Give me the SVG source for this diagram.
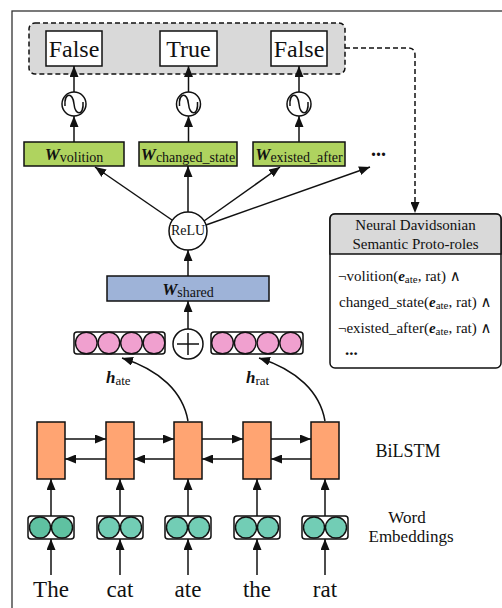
<svg xmlns="http://www.w3.org/2000/svg" width="502" height="608" viewBox="0 0 502 608">
<style>
text{font-family:"Liberation Serif","DejaVu Serif",serif;fill:#111}
.bx{stroke:#111;stroke-width:1.5}
.ln{stroke:#111;stroke-width:1.5;fill:none}
.bi{font-weight:bold;font-style:italic}
.big{font-size:24px}
.word{font-size:23px}
.lbl{font-size:18px}
.lbl2{font-size:17px}
.hd{font-size:15px}
.body{font-size:15px}
.sub{font-size:11px}
.wsub{font-size:14px}
.pk{fill:#f0a0cf;stroke:#111;stroke-width:1.4}
.tl{fill:#72cdb5;stroke:#111;stroke-width:1.4}
.ls{fill:#ffa472;stroke:#111;stroke-width:1.5}
.gr{fill:#afd35f;stroke:#111;stroke-width:1.5}
</style>
<defs>
<marker id="ah" viewBox="0 0 11 9" refX="11" refY="4.5" markerWidth="11" markerHeight="9" markerUnits="userSpaceOnUse" orient="auto">
<path d="M0,0 L11,4.5 L0,9 z" fill="#111"/>
</marker>
</defs>
<rect x="12" y="11" width="500" height="610" fill="#fff" stroke="#333" stroke-width="1.3"/>

<g id="outputs">
<rect x="29" y="23" width="316" height="51" rx="6" fill="#d9d9d9" stroke="#111" stroke-width="1.5" stroke-dasharray="5,3"/>
</g>
<g id="out1"><rect class="bx" x="46" y="31" width="56" height="35" fill="#fff"/><text class="big" x="74" y="57" text-anchor="middle">False</text></g>
<g id="out2"><rect class="bx" x="160" y="31" width="57" height="35" fill="#fff"/><text class="big" x="188.5" y="57" text-anchor="middle">True</text></g>
<g id="out3"><rect class="bx" x="271" y="31" width="56" height="35" fill="#fff"/><text class="big" x="299" y="57" text-anchor="middle">False</text></g>

<g id="sig1"><circle cx="74" cy="104" r="12" fill="#fff" class="bx"/><path class="ln" stroke-width="1.3" d="M65,106 C64,92 73,92 74,104 C75,116 84,116 83,102"/></g>
<g id="sig2"><circle cx="188.5" cy="104" r="12" fill="#fff" class="bx"/><path class="ln" stroke-width="1.3" d="M179.5,106 C178.5,92 187.5,92 188.5,104 C189.5,116 198.5,116 197.5,102"/></g>
<g id="sig3"><circle cx="299" cy="104" r="12" fill="#fff" class="bx"/><path class="ln" stroke-width="1.3" d="M290,106 C289,92 298,92 299,104 C300,116 309,116 308,102"/></g>

<g id="wvol"><rect class="gr" x="24" y="142" width="100" height="24"/><text x="74" y="160" text-anchor="middle"><tspan class="bi" font-size="17">W</tspan><tspan class="wsub" dy="1.5">volition</tspan></text></g>
<g id="wchg"><rect class="gr" x="139" y="142" width="98" height="24"/><text x="188" y="160" text-anchor="middle"><tspan class="bi" font-size="17">W</tspan><tspan class="wsub" dy="1.5">changed_state</tspan></text></g>
<g id="wex"><rect class="gr" x="253" y="142" width="92" height="24"/><text x="299" y="160" text-anchor="middle"><tspan class="bi" font-size="17">W</tspan><tspan class="wsub" dy="1.5">existed_after</tspan></text></g>
<g id="more"><text x="371" y="156" font-size="20" font-weight="bold">...</text></g>

<g id="relu"><circle cx="188" cy="231" r="19" fill="#fff" class="bx"/><text x="188" y="235" font-size="14" text-anchor="middle">ReLU</text></g>

<g id="wshared"><rect x="107" y="276" width="162" height="25" fill="#9eb3d8" class="bx"/><text x="188" y="295" text-anchor="middle"><tspan class="bi" font-size="17">W</tspan><tspan class="wsub" dy="1.5">shared</tspan></text></g>

<g id="plus"><circle cx="188" cy="344" r="15" fill="#fff" class="bx"/><path class="ln" stroke-width="1.8" d="M177,344 H199 M188,333 V355"/></g>

<g id="hate"><rect x="74" y="332" width="91" height="22" rx="3" fill="#fff" class="bx" stroke-width="1.3"/>
<circle class="pk" cx="86.3" cy="343" r="10.8"/><circle class="pk" cx="108.9" cy="343" r="10.8"/><circle class="pk" cx="131.5" cy="343" r="10.8"/><circle class="pk" cx="154" cy="343" r="10.8"/>
<text x="106" y="383"><tspan class="bi" font-size="17">h</tspan><tspan font-size="13" dy="1.5">ate</tspan></text></g>
<g id="hrat"><rect x="211" y="332" width="92" height="22" rx="3" fill="#fff" class="bx" stroke-width="1.3"/>
<circle class="pk" cx="222.5" cy="343" r="10.8"/><circle class="pk" cx="245.2" cy="343" r="10.8"/><circle class="pk" cx="267.9" cy="343" r="10.8"/><circle class="pk" cx="290.6" cy="343" r="10.8"/>
<text x="246" y="383"><tspan class="bi" font-size="17">h</tspan><tspan font-size="13" dy="1.5">rat</tspan></text></g>

<g id="lstm1"><rect class="ls" x="37" y="422" width="28" height="57"/></g>
<g id="lstm2"><rect class="ls" x="106" y="422" width="28" height="57"/></g>
<g id="lstm3"><rect class="ls" x="174" y="422" width="28" height="57"/></g>
<g id="lstm4"><rect class="ls" x="243" y="422" width="28" height="57"/></g>
<g id="lstm5"><rect class="ls" x="311" y="422" width="28" height="57"/></g>

<g id="emb1"><rect x="28" y="516" width="46" height="23" rx="3" fill="#fff" class="bx" stroke-width="1.3"/><circle cx="40" cy="527.5" r="10.5" class="tl" style="fill:#5fc1a1"/><circle cx="62" cy="527.5" r="10.5" class="tl" style="fill:#5fc1a1"/></g>
<g id="emb2"><rect x="97" y="516" width="46" height="23" rx="3" fill="#fff" class="bx" stroke-width="1.3"/><circle cx="109" cy="527.5" r="10.5" class="tl"/><circle cx="131" cy="527.5" r="10.5" class="tl"/></g>
<g id="emb3"><rect x="165" y="516" width="46" height="23" rx="3" fill="#fff" class="bx" stroke-width="1.3"/><circle cx="177" cy="527.5" r="10.5" class="tl"/><circle cx="199" cy="527.5" r="10.5" class="tl"/></g>
<g id="emb4"><rect x="234" y="516" width="46" height="23" rx="3" fill="#fff" class="bx" stroke-width="1.3"/><circle cx="246" cy="527.5" r="10.5" class="tl"/><circle cx="268" cy="527.5" r="10.5" class="tl"/></g>
<g id="emb5"><rect x="302" y="516" width="46" height="23" rx="3" fill="#fff" class="bx" stroke-width="1.3"/><circle cx="314" cy="527.5" r="10.5" class="tl"/><circle cx="336" cy="527.5" r="10.5" class="tl"/></g>

<g id="words">
<text class="word" x="51" y="597" text-anchor="middle">The</text>
<text class="word" x="120" y="597" text-anchor="middle">cat</text>
<text class="word" x="188" y="597" text-anchor="middle">ate</text>
<text class="word" x="257" y="597" text-anchor="middle">the</text>
<text class="word" x="325" y="597" text-anchor="middle">rat</text>
</g>

<g id="labels">
<text class="lbl" x="408" y="457" text-anchor="middle">BiLSTM</text>
<text class="lbl2" x="407" y="523" text-anchor="middle">Word</text>
<text class="lbl2" x="411" y="542" text-anchor="middle">Embeddings</text>
</g>

<g id="neural">
<rect x="330" y="214" width="171" height="154" rx="5" fill="#fff" class="bx"/>
<path d="M330,254 V219 Q330,214 335,214 H496 Q501,214 501,219 V254 Z" fill="#d9d9d9" class="bx"/>
<text class="hd" x="415.5" y="230" text-anchor="middle">Neural Davidsonian</text>
<text class="hd" x="415.5" y="249" text-anchor="middle">Semantic Proto-roles</text>
<text class="body" x="338" y="281">¬volition(<tspan class="bi">e</tspan><tspan class="sub" dy="2">ate</tspan><tspan dy="-2">, rat) ∧</tspan></text>
<text class="body" x="339" y="307">changed_state(<tspan class="bi">e</tspan><tspan class="sub" dy="2">ate</tspan><tspan dy="-2">, rat) ∧</tspan></text>
<text class="body" x="338" y="333">¬existed_after(<tspan class="bi">e</tspan><tspan class="sub" dy="2">ate</tspan><tspan dy="-2">, rat) ∧</tspan></text>
<text x="345" y="355" font-size="17" font-weight="bold">...</text>
</g>

<g id="connectors" class="ln" marker-end="url(#ah)">
<path d="M74,92 V66"/><path d="M188.5,92 V66"/><path d="M299,92 V66"/>
<path d="M74,142 V116"/><path d="M188.5,142 V116"/><path d="M299,142 V116"/>
<path d="M172,220 L95,167"/>
<path d="M188,212 V166"/>
<path d="M204,221 L280,167"/>
<path d="M206,225 L370,167"/>
<path d="M188,276 V250"/>
<path d="M188,329 V301"/>
<path d="M188,421 C183,392 160,370 122,358"/>
<path d="M325,421 C320,392 297,370 259,358"/>
<path d="M65,439 H106"/><path d="M134,439 H174"/><path d="M202,439 H243"/><path d="M271,439 H311"/>
<path d="M106,459 H65"/><path d="M174,459 H134"/><path d="M243,459 H202"/><path d="M311,459 H271"/>
<path d="M51,516 V479"/><path d="M120,516 V479"/><path d="M188,516 V479"/><path d="M257,516 V479"/><path d="M325,516 V479"/>
<path d="M51,575 V539"/><path d="M120,575 V539"/><path d="M188,575 V539"/><path d="M257,575 V539"/><path d="M325,575 V539"/>
<path d="M345,48 H408 Q415,48 415,55 V213" stroke-dasharray="5,3"/>
</g>
</svg>
